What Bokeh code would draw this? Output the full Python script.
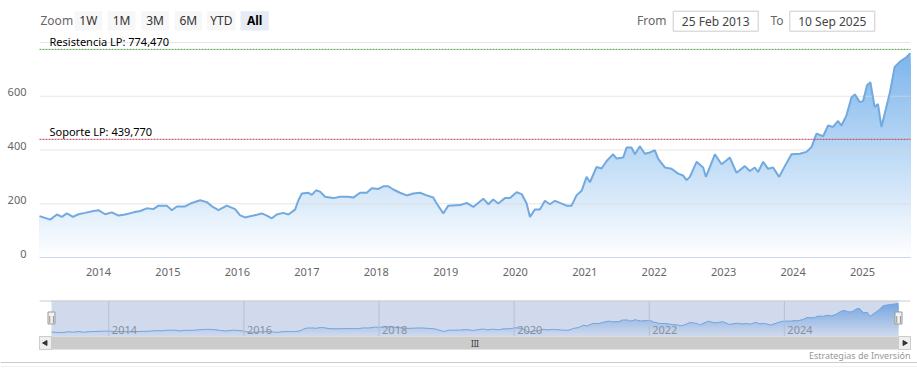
import numpy as np
from bokeh.plotting import figure
from bokeh.models import Range1d
from bokeh.embed import file_html
from bokeh.resources import INLINE
from bokeh.core.properties import value

# ---------------- data (decimal years, price) ----------------
dates = [
    2013.151, 2013.305, 2013.401, 2013.473, 2013.545, 2013.632, 2013.712, 2013.809, 2013.928,
    2014.000, 2014.096, 2014.193, 2014.288, 2014.384, 2014.504, 2014.600, 2014.696, 2014.791, 2014.863, 2014.984,
    2015.056, 2015.128, 2015.247, 2015.344, 2015.463, 2015.560, 2015.646, 2015.727, 2015.847, 2015.967,
    2016.039, 2016.111, 2016.230, 2016.351, 2016.423, 2016.495, 2016.567, 2016.662, 2016.734, 2016.830, 2016.878, 2016.927,
    2017.022, 2017.071, 2017.132, 2017.190, 2017.262, 2017.381, 2017.478, 2017.597, 2017.669, 2017.765, 2017.862, 2017.934,
    2018.029, 2018.101, 2018.173, 2018.245, 2018.341, 2018.437, 2018.532, 2018.629, 2018.725, 2018.820, 2018.869, 2018.964,
    2019.036, 2019.204, 2019.301, 2019.396, 2019.540, 2019.612, 2019.683, 2019.755, 2019.852, 2019.924,
    2020.020, 2020.092, 2020.164, 2020.212, 2020.284, 2020.355, 2020.427, 2020.499, 2020.571, 2020.643, 2020.739, 2020.811, 2020.883, 2020.955,
    2021.027, 2021.075, 2021.171, 2021.243, 2021.315, 2021.410, 2021.459, 2021.554, 2021.603, 2021.675, 2021.722, 2021.794, 2021.866, 2021.938,
    2022.010, 2022.058, 2022.154, 2022.250, 2022.345, 2022.417, 2022.466, 2022.514, 2022.610, 2022.705, 2022.745, 2022.874, 2022.970,
    2023.042, 2023.089, 2023.186, 2023.305, 2023.377, 2023.449, 2023.496, 2023.568, 2023.640, 2023.712, 2023.799, 2023.881, 2023.977,
    2024.096, 2024.193, 2024.265, 2024.337, 2024.432, 2024.504, 2024.576, 2024.647, 2024.696, 2024.768, 2024.840, 2024.888, 2024.960,
    2025.007, 2025.065, 2025.112, 2025.174, 2025.222, 2025.271, 2025.342, 2025.390, 2025.462, 2025.534, 2025.630, 2025.690,
]
prices = [
    154, 141, 160, 151, 164, 151, 161, 166, 173,
    176, 161, 168, 156, 160, 168, 173, 183, 180, 193, 193,
    176, 190, 190, 203, 213, 206, 188, 176, 193, 180,
    157, 149, 156, 164, 156, 146, 160, 166, 160, 178, 213, 238,
    241, 233, 250, 245, 226, 221, 226, 226, 223, 241, 241, 258,
    255, 265, 265, 253, 241, 231, 238, 241, 231, 223, 201, 164,
    193, 195, 203, 188, 219, 198, 216, 201, 221, 221,
    243, 236, 201, 151, 179, 179, 211, 198, 211, 203, 193, 193, 232, 248,
    300, 280, 337, 331, 359, 384, 368, 372, 409, 409, 384, 414, 386, 391,
    399, 367, 335, 330, 312, 305, 288, 300, 356, 335, 300, 384, 347,
    362, 372, 315, 340, 322, 335, 318, 356, 330, 335, 300, 340, 384,
    386, 393, 411, 461, 451, 491, 486, 508, 491, 529, 595, 607, 578,
    582, 641, 652, 560, 571, 486, 560, 610, 709, 728, 745, 760,
]
resistance = 774.47
support = 439.77
y_ticks = [0, 200, 400, 600]
grid_ticks = [200, 400, 600, 800]
y_max = 800
x_ticks = list(range(2014, 2026))
nav_ticks = [2014, 2016, 2018, 2020, 2022, 2024]
buttons = ["1W", "1M", "3M", "6M", "YTD", "All"]
date_from = "25 Feb 2013"
date_to = "10 Sep 2025"
credits = "Estrategias de Inversión"

# ---------------- styles / layout (page pixels) ----------------
W, H = 917, 374
FONT = "Noto Sans"
BASE = (124, 181, 236)
PLOT_L, PLOT_R, PLOT_T, PLOT_B = 39, 910, 42, 257
NAV_L, NAV_R, NAV_T, NAV_B = 51, 898, 300, 336
NAV_MIN, NAV_MAX = 60, 820


def blend(a):
    r, g, b = [int(round(255 * (1 - a) + c * a)) for c in BASE]
    return "#%02x%02x%02x" % (r, g, b)


def fmt_es(x):
    return f"{x:.3f}".replace(".", ",")


def xrange_for(v_a, px_a, v_b, px_b):
    k = (v_b - v_a) / (px_b - px_a)
    return Range1d(v_a - px_a * k, v_b + (W - px_b) * k)


def yrange_for(v_lo, px_lo, v_hi, px_hi):
    # range start maps to px=H (bottom), end maps to px=0 (top)
    k = (v_hi - v_lo) / (px_lo - px_hi)
    return Range1d(v_lo - (H - px_lo) * k, v_hi + px_hi * k)


t = np.array(dates)
v = np.array(prices, dtype=float)
t0, t1 = t[0], t[-1]
vmax = v.max()

p = figure(width=W, height=H, x_range=Range1d(0, W), y_range=Range1d(H, 0),
           x_axis_type=None, y_axis_type=None, toolbar_location=None,
           output_backend="svg", min_border=0, title_location=None)
p.outline_line_color = None
p.background_fill_color = "#ffffff"
p.border_fill_color = "#ffffff"
p.extra_x_ranges = {"mx": xrange_for(t0, PLOT_L, t1, PLOT_R),
                    "nx": xrange_for(t0, NAV_L, t1, NAV_R)}
p.extra_y_ranges = {"my": yrange_for(0, PLOT_B, y_max, PLOT_T),
                    "ny": yrange_for(NAV_MIN, NAV_B, NAV_MAX, NAV_T)}

# ---------------- header ----------------
p.text(x=[40], y=[20.3], text=["Zoom"], text_align="left", text_baseline="middle",
       text_font=value(FONT), text_font_size="12px", text_color="#666666")
btn_left = [74, 107, 140.7, 174, 206.7, 240]
btn_right = [101.7, 135, 168.3, 201.7, 235, 268.3]
btn_fill = ["#f7f7f7"] * 5 + ["#e6ebf5"]
p.quad(left=btn_left, right=btn_right, top=[10.7] * 6, bottom=[30] * 6,
       fill_color=btn_fill, line_color=None)
centers = [(a + b) / 2 for a, b in zip(btn_left, btn_right)]
p.text(x=centers[:5], y=[20.3] * 5, text=buttons[:5], text_align="center",
       text_baseline="middle", text_font=value(FONT), text_font_size="12px",
       text_color="#333333")
p.text(x=[centers[5]], y=[20.3], text=[buttons[5]], text_align="center",
       text_baseline="middle", text_font=value(FONT), text_font_size="12px",
       text_font_style="bold", text_color="#000000")
p.text(x=[666, 783], y=[20.3, 20.3], text=["From", "To"], text_align="right",
       text_baseline="middle", text_font=value(FONT), text_font_size="12px",
       text_color="#666666")
p.quad(left=[672.7, 789.3], right=[757.7, 874.3], top=[10.7, 10.7], bottom=[30.7, 30.7],
       fill_color="#ffffff", line_color="#cccccc", line_width=1)
p.text(x=[715.2, 831.8], y=[20.7, 20.7], text=[date_from, date_to], text_align="center",
       text_baseline="middle", text_font=value(FONT), text_font_size="12px",
       text_color="#444444")

# ---------------- main chart ----------------
N = 70
for k in range(N, 0, -1):
    hi = vmax * k / N
    a = (k - 0.5) / N
    p.varea(x=t, y1=np.zeros_like(v), y2=np.minimum(v, hi), fill_color=blend(a),
            x_range_name="mx", y_range_name="my")

ng = len(grid_ticks)
p.segment(x0=[t0] * ng, x1=[t1] * ng, y0=grid_ticks, y1=grid_ticks, line_color="#d9d9d9",
          line_alpha=0.65, line_width=1, x_range_name="mx", y_range_name="my")
p.segment(x0=[t0], x1=[t1], y0=[0], y1=[0], line_color="#ccd6eb", line_width=1,
          x_range_name="mx", y_range_name="my")

p.line(t, v, line_color="#72aae0", line_width=2, x_range_name="mx", y_range_name="my")

p.segment(x0=[t0], x1=[t1], y0=[resistance], y1=[resistance], line_color="#4f9a45",
          line_dash="2 1", line_width=1, x_range_name="mx", y_range_name="my")
p.segment(x0=[t0], x1=[t1], y0=[support], y1=[support], line_color="#c0394b",
          line_dash="2 1", line_width=1, x_range_name="mx", y_range_name="my")

p.text(x=[49, 49], y=[resistance, support],
       text=[f"Resistencia LP: {fmt_es(resistance)}", f"Soporte LP: {fmt_es(support)}"],
       text_align="left", text_baseline="bottom", text_font=value(FONT),
       text_font_size="11px", text_color="#000000", y_range_name="my")

p.text(x=[26] * len(y_ticks), y=y_ticks, text=[str(y) for y in y_ticks], text_align="right",
       text_baseline="middle", y_offset=-4, text_font=value(FONT), text_font_size="11px",
       text_color="#666666", y_range_name="my")

p.text(x=x_ticks, y=[271] * len(x_ticks), text=[str(y) for y in x_ticks], text_align="center",
       text_baseline="middle", text_font=value(FONT), text_font_size="11px",
       text_color="#666666", x_range_name="mx")

# ---------------- navigator ----------------
NB = 30
for k in range(NB, 0, -1):
    hi = NAV_MIN + (vmax - NAV_MIN) * k / NB
    a = (k - 0.5) / NB
    p.varea(x=t, y1=np.full_like(v, NAV_MIN), y2=np.minimum(v, hi), fill_color=blend(a),
            x_range_name="nx", y_range_name="ny")
p.line(t, v, line_color="#7cb5ec", line_width=1, x_range_name="nx", y_range_name="ny")

nn = len(nav_ticks)
p.segment(x0=nav_ticks, x1=nav_ticks, y0=[NAV_MIN] * nn, y1=[NAV_MAX] * nn,
          line_color="#d8d8d8", line_width=1, x_range_name="nx", y_range_name="ny")
# mask over the selected range (all data)
p.quad(left=[t0], right=[t1], top=[NAV_MAX], bottom=[NAV_MIN], fill_color="#6685c2",
       fill_alpha=0.3, line_color=None, x_range_name="nx", y_range_name="ny")
p.text(x=nav_ticks, y=[329] * nn, text=[str(y) for y in nav_ticks],
       x_offset=3, text_align="left", text_baseline="middle", text_font=value(FONT),
       text_font_size="11px", text_color="#8a8f99", x_range_name="nx")
p.segment(x0=[PLOT_L], x1=[PLOT_R], y0=[NAV_T + 0.5], y1=[NAV_T + 0.5],
          line_color="#cccccc", line_width=1)

# scrollbar
SB_T, SB_B = NAV_B, 349
p.quad(left=[PLOT_L], right=[PLOT_R], top=[SB_T], bottom=[SB_B], fill_color="#f2f2f2",
       line_color=None)
p.quad(left=[t0], right=[t1], top=[SB_T], bottom=[SB_B], fill_color="#cccccc",
       line_color=None, x_range_name="nx")
p.quad(left=[PLOT_L, NAV_R], right=[NAV_L, PLOT_R], top=[SB_T, SB_T], bottom=[SB_B, SB_B],
       fill_color="#eeeeee", line_color="#cccccc", line_width=1)
p.scatter(x=[(PLOT_L + NAV_L) / 2, (NAV_R + PLOT_R) / 2], y=[342.5, 342.5], marker="triangle",
          size=5, angle=[np.pi / 2, -np.pi / 2], fill_color="#333333", line_color="#333333")
p.text(x=[(t0 + t1) / 2], y=[342.5], text=["III"], text_align="center", text_baseline="middle",
       text_font=value(FONT), text_font_size="8px", text_color="#333333", x_range_name="nx")

# handles
p.rect(x=[t0, t1], y=[317.5, 317.5], width=7, height=12, width_units="screen",
       fill_color="#f2f2f2", line_color="#999999", line_width=1, x_range_name="nx")
p.text(x=[t0, t1], y=[317.5, 317.5], text=["||", "||"], text_align="center",
       text_baseline="middle", text_font=value(FONT), text_font_size="7px",
       text_color="#333333", x_range_name="nx")

p.segment(x0=[0], x1=[W], y0=[362], y1=[362], line_color="#cccccc", line_width=1)
p.segment(x0=[0], x1=[W], y0=[366], y1=[366], line_color="#f0f0f0", line_width=1)
p.text(x=[PLOT_R], y=[354.5], text=[credits], text_align="right", text_baseline="middle",
       text_font=value(FONT), text_font_size="9px", text_color="#999999")

open("out.html", "w").write(file_html(p, INLINE))
